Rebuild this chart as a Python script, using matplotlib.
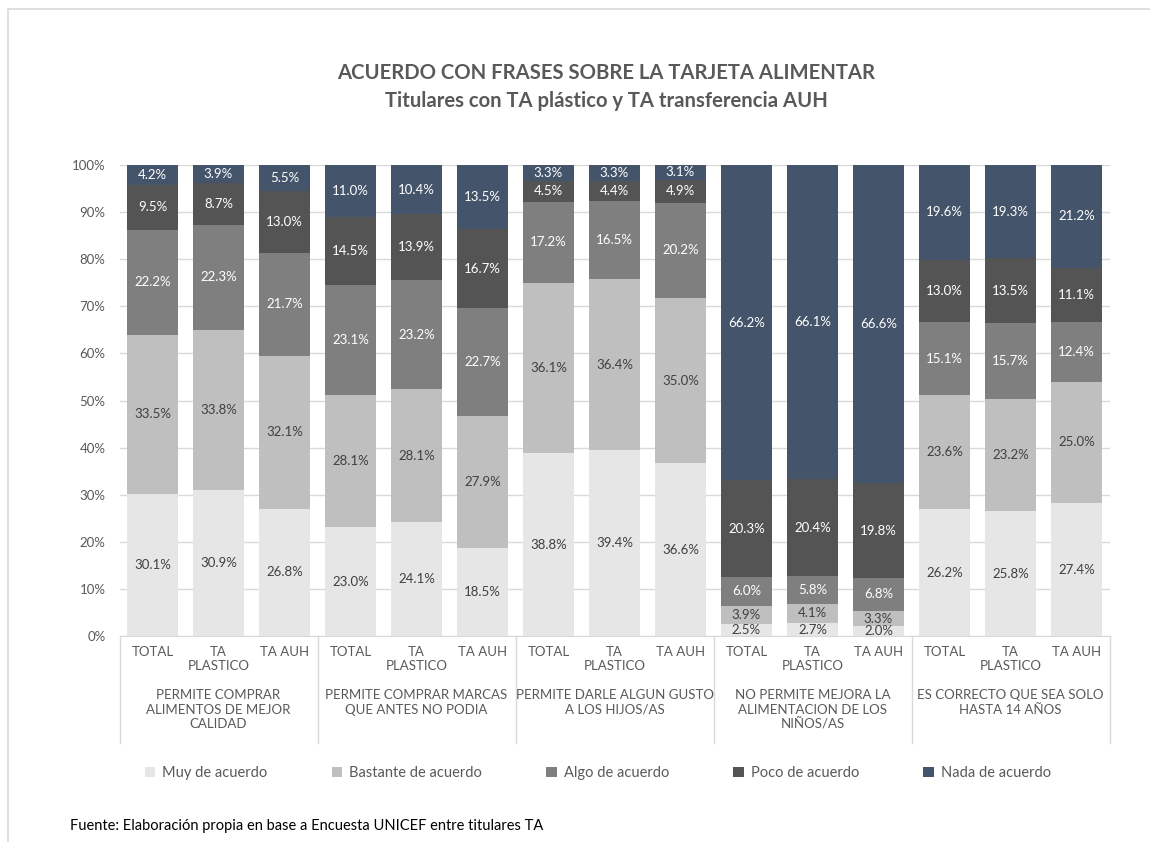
import matplotlib.pyplot as plt
import numpy as np
from matplotlib.patches import Rectangle
from matplotlib.lines import Line2D

plt.rcParams['font.family'] = ['Lato', 'DejaVu Sans']

groups = ["PERMITE COMPRAR\nALIMENTOS DE MEJOR\nCALIDAD",
          "PERMITE COMPRAR MARCAS\nQUE ANTES NO PODIA",
          "PERMITE DARLE ALGUN GUSTO\nA LOS HIJOS/AS",
          "NO PERMITE MEJORA LA\nALIMENTACION DE LOS\nNIÑOS/AS",
          "ES CORRECTO QUE SEA SOLO\nHASTA 14 AÑOS"]
subcats = ["TOTAL", "TA\nPLASTICO", "TA AUH"]
series = ["Muy de acuerdo", "Bastante de acuerdo", "Algo de acuerdo",
          "Poco de acuerdo", "Nada de acuerdo"]

muy = [30.1, 30.9, 26.8, 23.0, 24.1, 18.5, 38.8, 39.4, 36.6, 2.5, 2.7, 2.0, 26.2, 25.8, 27.4]
bastante = [33.5, 33.8, 32.1, 28.1, 28.1, 27.9, 36.1, 36.4, 35.0, 3.9, 4.1, 3.3, 23.6, 23.2, 25.0]
algo = [22.2, 22.3, 21.7, 23.1, 23.2, 22.7, 17.2, 16.5, 20.2, 6.0, 5.8, 6.8, 15.1, 15.7, 12.4]
poco = [9.5, 8.7, 13.0, 14.5, 13.9, 16.7, 4.5, 4.4, 4.9, 20.3, 20.4, 19.8, 13.0, 13.5, 11.1]
nada = [4.2, 3.9, 5.5, 11.0, 10.4, 13.5, 3.3, 3.3, 3.1, 66.2, 66.1, 66.6, 19.6, 19.3, 21.2]

colors = ["#E7E6E6", "#BFBFBF", "#7F7F7F", "#545454", "#44546A"]
text_colors = ["#404040", "#404040", "white", "white", "white"]

data = np.array([muy, bastante, algo, poco, nada])
norm = data / data.sum(axis=0) * 100  # 100% stacked like Excel

fig = plt.figure(figsize=(11.5, 8.42), dpi=100)
ax = fig.add_axes([119.5 / 1150, 1 - 636 / 842, 990 / 1150, 471 / 842])

x = np.arange(len(muy))
bottom = np.zeros(len(muy))
for i in range(len(series)):
    ax.bar(x, norm[i], 0.77, bottom=bottom, color=colors[i], label=series[i], zorder=2)
    for j in range(len(x)):
        ax.text(x[j], bottom[j] + norm[i][j] / 2, f"{data[i][j]:.1f}%",
                ha='center', va='center', fontsize=9.5, color=text_colors[i], zorder=3)
    bottom += norm[i]

ax.set_xlim(-0.5, len(x) - 0.5)
ax.set_ylim(0, 100)
ax.set_yticks(np.arange(0, 101, 10))
ax.set_yticklabels([f"{v}%" for v in range(0, 101, 10)], fontsize=9.5, color="#595959")
ax.yaxis.grid(True, color="#D9D9D9", linewidth=1, zorder=0)
ax.tick_params(axis='y', length=0, pad=10)
ax.tick_params(axis='x', length=0)
ax.set_xticks([])
for s in ["top", "right", "left"]:
    ax.spines[s].set_visible(False)
ax.spines["bottom"].set_color("#D9D9D9")

xt = ax.get_xaxis_transform()
for j in range(len(x)):
    ax.text(x[j], -0.022, subcats[j % 3], transform=xt, ha='center', va='top',
            fontsize=9.5, color="#595959", linespacing=1.15)
for g in range(len(groups)):
    ax.text(3 * g + 1, -0.113, groups[g], transform=xt, ha='center', va='top',
            fontsize=9.5, color="#595959", linespacing=1.25)
for b in range(len(groups) + 1):
    ax.add_line(Line2D([3 * b - 0.5, 3 * b - 0.5], [0, -0.228], transform=xt,
                       color="#D9D9D9", linewidth=1, clip_on=False))

fig.text(606 / 1150, 1 - 73 / 842, "ACUERDO CON FRASES SOBRE LA TARJETA ALIMENTAR",
         ha='center', va='center', fontsize=14.6, fontweight='bold', color="#595959")
fig.text(606 / 1150, 1 - 101 / 842, "Titulares con TA plástico y TA transferencia AUH",
         ha='center', va='center', fontsize=14.6, fontweight='bold', color="#595959")

leg = fig.legend(loc='center', bbox_to_anchor=(0.52, 1 - 773 / 842), ncol=5,
                 frameon=False, fontsize=10.5, handlelength=0.7, handleheight=0.7,
                 columnspacing=4.4, handletextpad=0.5)
for t in leg.get_texts():
    t.set_color("#595959")

fig.text(70 / 1150, 1 - 826 / 842, "Fuente: Elaboración propia en base a Encuesta UNICEF entre titulares TA",
         ha='left', va='center', fontsize=10.5, color="black")

fig.add_artist(Rectangle((8 / 1150, -0.05), 1.2, 1 - 9 / 842 + 0.05, transform=fig.transFigure,
                         fill=False, edgecolor="#D9D9D9", linewidth=1.2))

fig.savefig("out.png", dpi=100)
